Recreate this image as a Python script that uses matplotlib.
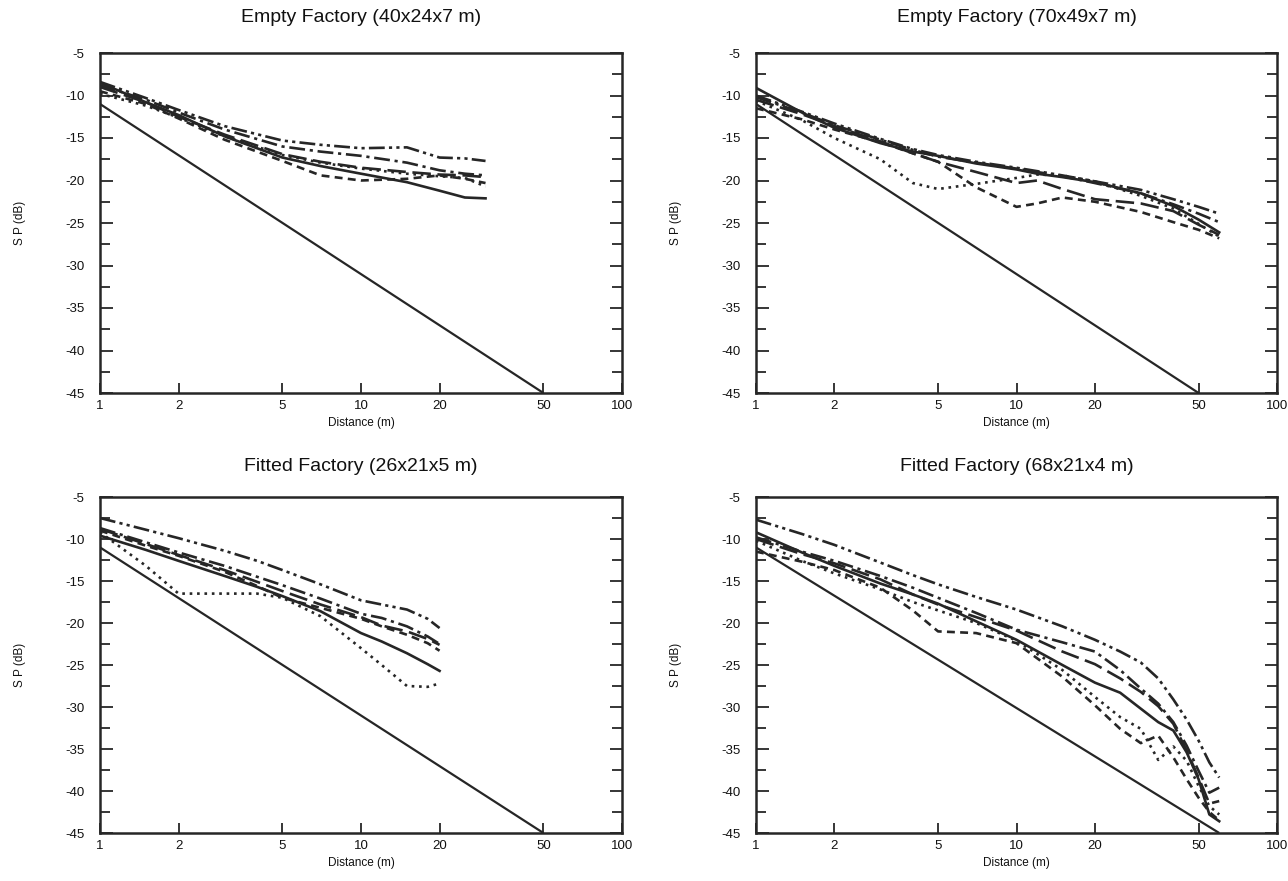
import matplotlib
matplotlib.use("Agg")
import matplotlib.pyplot as plt
import numpy as np

plt.rcParams['font.family'] = ['Liberation Sans', 'DejaVu Sans']

W, H = 1288, 881

# ---------------- data ----------------
titles = ["Empty Factory (40x24x7 m)", "Empty Factory (70x49x7 m)",
          "Fitted Factory (26x21x5 m)", "Fitted Factory (68x21x4 m)"]

# reference (free-space like) straight line per panel
ref_d = [[1, 50], [1, 50], [1, 50], [1, 60]]
ref_v = [[-11, -45], [-11, -45], [-11, -45], [-11, -45]]

# Panel 1 : Empty Factory (40x24x7 m)
p1_d = [1, 1.5, 2, 3, 5, 7, 10, 15, 20, 25, 30]
p1_solid   = [-8.5, -10.8, -12.3, -14.8, -17.3, -18.3, -19.2, -20.2, -21.2, -22.0, -22.1]
p1_dash    = [-9.5, -11.0, -12.7, -15.2, -17.7, -19.4, -20.0, -19.8, -19.4, -19.8, -20.3]
p1_ldash   = [-9.0, -10.8, -12.5, -14.6, -16.9, -17.8, -18.5, -19.0, -19.3, -19.4, -19.6]
p1_dot     = [-9.8, -11.2, -12.6, -14.8, -17.0, -17.9, -18.6, -19.2, -19.5, -19.7, -20.7]
p1_dashdot = [-8.8, -10.5, -12.0, -14.0, -16.0, -16.6, -17.1, -17.9, -18.8, -19.2, -19.4]
p1_dd      = [-8.4, -10.3, -11.7, -13.6, -15.3, -15.8, -16.2, -16.1, -17.3, -17.4, -17.7]

# Panel 2 : Empty Factory (70x49x7 m)
p2_d = [1, 1.5, 2, 3, 4, 5, 7, 10, 12, 15, 20, 30, 40, 50, 60]
p2_solid   = [-9.1, -12.0, -13.8, -15.6, -16.6, -17.1, -18.0, -18.7, -19.2, -19.6, -20.2, -21.5, -23.0, -24.6, -26.1]
p2_dash    = [-11.5, -12.8, -14.0, -15.5, -16.8, -17.8, -20.8, -23.1, -22.7, -22.0, -22.5, -23.7, -24.9, -25.8, -26.8]
p2_ldash   = [-10.5, -12.2, -13.6, -15.4, -16.8, -17.8, -19.0, -20.3, -20.0, -21.0, -22.2, -22.7, -23.6, -25.2, -26.4]
p2_dot     = [-10.6, -12.9, -15.0, -17.5, -20.3, -21.0, -20.4, -19.7, -19.3, -19.4, -20.1, -21.8, -23.3, -25.1, -26.6]
p2_dashdot = [-10.2, -12.0, -13.5, -15.2, -16.4, -17.2, -17.9, -18.6, -19.0, -19.5, -20.3, -21.5, -22.8, -23.9, -24.9]
p2_dd      = [-10.0, -11.9, -13.3, -15.1, -16.3, -17.0, -17.8, -18.5, -18.9, -19.4, -20.1, -21.1, -22.2, -23.1, -23.9]

# Panel 3 : Fitted Factory (26x21x5 m)
p3_d = [1, 1.5, 2, 3, 4, 5, 7, 10, 12, 15, 18, 20]
p3_solid   = [-9.6, -11.3, -12.6, -14.4, -15.7, -16.8, -18.6, -21.2, -22.2, -23.6, -24.9, -25.7]
p3_dash    = [-9.0, -10.8, -12.0, -13.9, -15.6, -17.0, -18.2, -19.5, -20.4, -21.4, -22.4, -23.3]
p3_ldash   = [-8.8, -10.6, -11.9, -13.7, -15.1, -16.2, -17.8, -19.3, -20.3, -21.0, -21.9, -22.6]
p3_dot     = [-9.2, -13.2, -16.5, -16.5, -16.5, -17.0, -19.2, -23.0, -25.0, -27.5, -27.6, -27.2]
p3_dashdot = [-8.7, -10.4, -11.6, -13.2, -14.5, -15.5, -17.1, -18.9, -19.4, -20.4, -21.6, -22.5]
p3_dd      = [-7.5, -8.9, -9.9, -11.4, -12.6, -13.7, -15.4, -17.3, -17.8, -18.4, -19.5, -20.6]

# Panel 4 : Fitted Factory (68x21x4 m)
p4_d = [1, 1.5, 2, 3, 4, 5, 7, 10, 15, 20, 25, 30, 35, 40, 45, 50, 55, 60]
p4_solid   = [-9.2, -11.6, -13.2, -15.3, -16.6, -17.7, -19.8, -22.0, -25.0, -27.1, -28.3, -30.2, -31.8, -32.8, -35.4, -38.6, -42.8, -43.6]
p4_dash    = [-11.5, -12.7, -13.7, -15.8, -18.5, -21.0, -21.2, -22.4, -26.4, -29.8, -32.6, -34.3, -33.4, -36.0, -38.6, -40.8, -42.5, -43.5]
p4_ldash   = [-10.0, -11.8, -12.9, -14.8, -16.6, -17.8, -19.3, -20.9, -23.4, -24.9, -26.6, -28.2, -29.9, -32.0, -35.2, -38.4, -41.5, -41.2]
p4_dot     = [-10.2, -12.6, -14.1, -16.0, -17.5, -18.5, -20.0, -22.1, -25.6, -28.8, -31.2, -32.6, -36.3, -34.7, -36.4, -39.4, -41.8, -42.8]
p4_dashdot = [-9.8, -11.5, -12.6, -14.4, -15.8, -17.0, -18.8, -20.8, -22.3, -23.4, -25.6, -27.8, -29.6, -31.8, -34.6, -37.6, -40.2, -39.6]
p4_dd      = [-7.7, -9.4, -10.7, -12.8, -14.3, -15.4, -16.9, -18.4, -20.4, -22.0, -23.4, -24.7, -26.6, -29.1, -31.5, -34.0, -36.6, -38.4]

panels_d = [p1_d, p2_d, p3_d, p4_d]
panels_series = [
    [p1_solid, p1_dash, p1_ldash, p1_dot, p1_dashdot, p1_dd],
    [p2_solid, p2_dash, p2_ldash, p2_dot, p2_dashdot, p2_dd],
    [p3_solid, p3_dash, p3_ldash, p3_dot, p3_dashdot, p3_dd],
    [p4_solid, p4_dash, p4_ldash, p4_dot, p4_dashdot, p4_dd],
]

xticks = [1, 2, 5, 10, 20, 50, 100]
xticklabels = ["1", "2", "5", "10", "20", "50", "100"]
yticks = [-5, -10, -15, -20, -25, -30, -35, -40, -45]

# ---------------- styles ----------------
ink = "#262626"
styles = [
    dict(ls="-"),
    dict(ls=(0, (3.0, 2.0))),
    dict(ls=(0, (7.0, 2.5))),
    dict(ls=(0, (1.0, 1.8))),
    dict(ls=(0, (6.0, 1.8, 1.2, 1.8))),
    dict(ls=(0, (6.0, 1.6, 1.2, 1.6, 1.2, 1.6))),
]

# panel rectangles in pixels: left, right, top, bottom, title offset
rects = [(100, 622, 53, 393, 35), (756, 1277, 53, 393, 35),
         (100, 622, 497, 833, 30), (756, 1277, 497, 833, 30)]

fig = plt.figure(figsize=(W / 100, H / 100), dpi=100)
fig.patch.set_facecolor("white")

for i, (l, r, t, b, toff) in enumerate(rects):
    ax = fig.add_axes([l / W, 1 - b / H, (r - l) / W, (b - t) / H])
    ax.set_xscale("log")
    ax.set_xlim(1, 100)
    ax.set_ylim(-45, -5)
    # reference line
    ax.plot(ref_d[i], ref_v[i], color=ink, lw=1.6, solid_capstyle="butt")
    for s, st in zip(panels_series[i], styles):
        ax.plot(panels_d[i], s, color=ink, lw=1.9, dash_capstyle="butt", **st)
    ax.set_xticks(xticks)
    ax.set_xticklabels(xticklabels)
    ax.xaxis.set_minor_locator(matplotlib.ticker.NullLocator())
    ax.set_yticks(yticks)
    ax.set_yticklabels([str(v) for v in yticks])
    ax.set_yticks(np.arange(-45, -4.9, 2.5), minor=True)
    ax.tick_params(axis="both", which="both", direction="in", colors=ink,
                   labelsize=9.5, width=1.3)
    ax.tick_params(axis="y", which="both", right=True, left=True)
    ax.tick_params(axis="x", which="major", length=7, pad=5)
    ax.tick_params(axis="y", which="major", length=9, pad=11)
    ax.tick_params(axis="y", which="minor", length=7)
    for sp in ax.spines.values():
        sp.set_linewidth(1.8)
        sp.set_color(ink)
    for lab in ax.get_xticklabels() + ax.get_yticklabels():
        lab.set_color("#111111")
    cx = (l + r) / 2
    fig.text(cx / W, 1 - (t - toff) / H, titles[i], ha="center", va="center",
             fontsize=14, color="#111111")
    fig.text(cx / W, 1 - (b + 30) / H, "Distance (m)", ha="center", va="center",
             fontsize=8.5, color="#111111")
    fig.text((l - 80) / W, 1 - ((t + b) / 2) / H, "S P (dB)", ha="center",
             va="center", rotation=90, fontsize=8.5, color="#111111")

fig.savefig("out.png", dpi=100, facecolor="white")
